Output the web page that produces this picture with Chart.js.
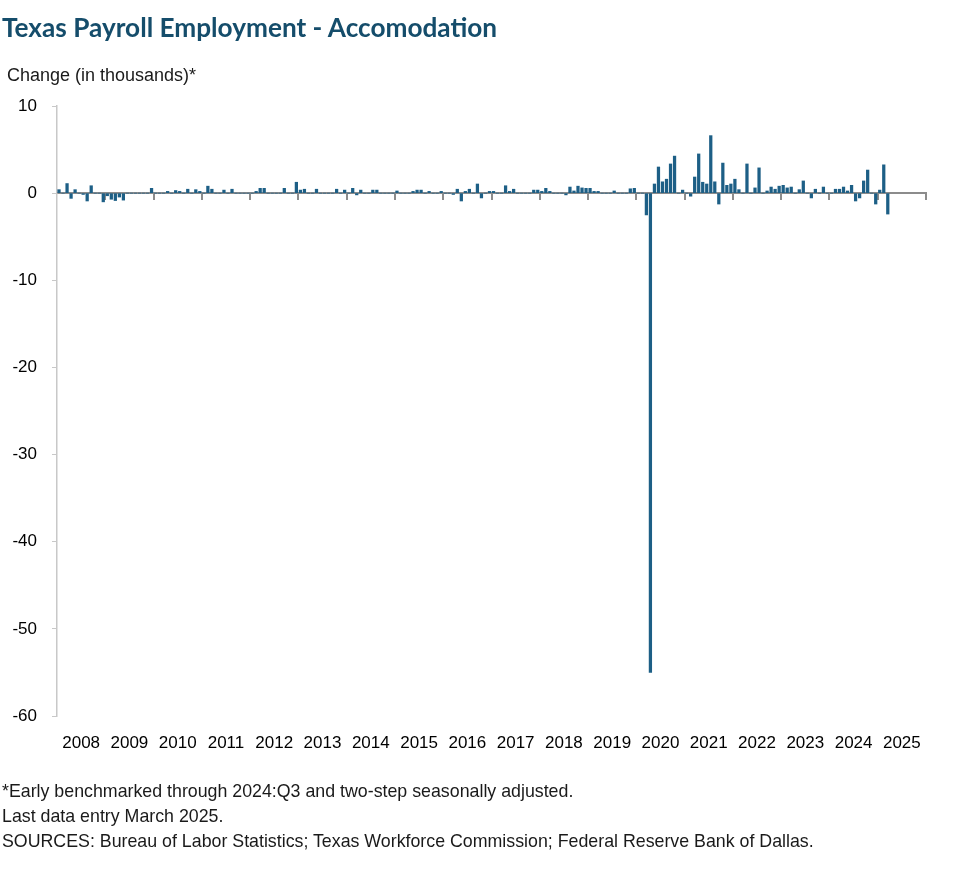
<!DOCTYPE html>
<html>
<head>
<meta charset="utf-8">
<script src="https://cdn.jsdelivr.net/npm/chart.js@4.4.1/dist/chart.umd.min.js"></script>
<style>
  html, body { margin: 0; padding: 0; background: #ffffff; }
  #wrap { position: relative; width: 979px; height: 878px; overflow: hidden; }
  #chart { position: absolute; left: 0; top: 0; }
  .txt { position: absolute; white-space: pre; color: #1a1a1a; font-family: "Liberation Sans", Arial, sans-serif; }
  #title { left: 2px; top: 12px; font-weight: bold; font-size: 26.2px; line-height: 30px; color: #154d6b;
           font-family: Lato, "Liberation Sans", Arial, sans-serif; }
  #ytitle { left: 7px; top: 66px; font-size: 18px; line-height: 19px; }
  #notes { left: 2px; top: 779px; font-size: 17.8px; line-height: 25px; }
</style>
</head>
<body>
<div id="wrap">
  <canvas id="chart" width="979" height="878"></canvas>
  <div id="title" class="txt">Texas Payroll Employment - Accomodation</div>
  <div id="ytitle" class="txt">Change (in thousands)*</div>
  <div id="notes" class="txt">*Early benchmarked through 2024:Q3 and two-step seasonally adjusted.
Last data entry March 2025.
SOURCES: Bureau of Labor Statistics; Texas Workforce Commission; Federal Reserve Bank of Dallas.</div>
</div>
<script>
// ---- data (monthly change, thousands), Jan 2008 .. Mar 2025 ----
const startYear = 2008;
const years = ['2008','2009','2010','2011','2012','2013','2014','2015','2016',
               '2017','2018','2019','2020','2021','2022','2023','2024','2025'];
const changes = [
  // 2008
  0.4, 0, 1.1, -0.6, 0.4, 0, -0.15, -0.9, 0.85, 0, 0, -1.0,
  // 2009
  -0.3, -0.7, -0.85, -0.45, -0.8, 0, 0, 0, 0, 0, 0, 0.55,
  // 2010
  0, 0, 0, 0.2, 0, 0.3, 0.2, 0, 0.45, 0, 0.4, 0.2,
  // 2011
  0, 0.8, 0.45, 0, 0, 0.35, 0, 0.45, 0, 0, 0, 0,
  // 2012
  0, 0.2, 0.55, 0.55, 0, 0, 0, 0, 0.55, 0, 0, 1.25,
  // 2013
  0.35, 0.45, 0, 0, 0.45, 0, 0, 0, 0, 0.45, 0, 0.35,
  // 2014
  0, 0.55, -0.2, 0.35, 0, 0, 0.35, 0.35, 0, 0, 0, 0,
  // 2015
  0.25, 0, 0, 0, 0.2, 0.35, 0.35, 0, 0.2, 0, 0, 0.2,
  // 2016
  0, 0, -0.15, 0.45, -0.9, 0.2, 0.45, 0, 1.05, -0.55, 0, 0.2,
  // 2017
  0.2, 0, 0, 0.85, 0.2, 0.45, 0, 0, 0, 0, 0.35, 0.35,
  // 2018
  0.2, 0.55, 0.2, 0, 0, 0, -0.2, 0.7, 0.25, 0.8, 0.6, 0.55,
  // 2019
  0.55, 0.2, 0.2, 0, 0, 0, 0.25, 0, 0, 0, 0.5, 0.55,
  // 2020
  0, 0, -2.5, -55, 1.05, 3.0, 1.3, 1.6, 3.35, 4.25, 0, 0.35,
  // 2021
  0, -0.35, 1.85, 4.5, 1.25, 1.05, 6.6, 1.3, -1.25, 3.45, 0.9, 1.05,
  // 2022
  1.6, 0.4, 0, 3.35, 0, 0.6, 2.9, 0, 0.25, 0.7, 0.45, 0.8,
  // 2023
  0.9, 0.6, 0.7, 0, 0.4, 1.4, 0, -0.55, 0.45, 0, 0.7, 0,
  // 2024
  0, 0.45, 0.45, 0.7, 0.25, 0.9, -0.9, -0.55, 1.4, 2.65, 0, -1.25,
  // 2025
  0.35, 3.25, -2.4
];
const yTicks = [10, 0, -10, -20, -30, -40, -50, -60];

// ---- build ----
const points = changes.map((v, i) => ({ x: startYear + (i + 0.5) / 12, y: v }));
const endYear = startYear + years.length;
const boundaryYears = [];
for (let y = startYear + 1; y <= endYear; y++) boundaryYears.push(y);

const axisFont = { family: '"Liberation Sans", Arial, sans-serif', size: 17 };

new Chart(document.getElementById('chart'), {
  type: 'bar',
  data: {
    datasets: [{
      data: points,
      backgroundColor: '#1d5f86',
      borderWidth: 0,
      barThickness: 2.6,
      xAxisID: 'x',
      yAxisID: 'y'
    }]
  },
  options: {
    responsive: false,
    animation: false,
    layout: { padding: { top: 106, right: 53, bottom: 122, left: 0 } },
    plugins: { legend: { display: false }, tooltip: { enabled: false }, title: { display: false } },
    scales: {
      x: {
        type: 'linear',
        position: 'bottom',
        offset: false,
        min: startYear,
        max: endYear,
        grid: { display: false, drawTicks: false, offset: false },
        border: { display: false },
        afterBuildTicks: (s) => { s.ticks = years.map(y => ({ value: Number(y) + 0.5 })); },
        afterFit: (s) => { s.height = 40; },
        ticks: {
          autoSkip: false, maxRotation: 0, minRotation: 0, padding: 17,
          color: '#000000', font: axisFont,
          callback: (v) => String(Math.floor(v))
        }
      },
      xz: {
        type: 'linear',
        position: { y: 0 },
        offset: false,
        min: startYear,
        max: endYear,
        z: 1,
        afterBuildTicks: (s) => { s.ticks = boundaryYears.map(y => ({ value: y })); },
        ticks: { display: false },
        grid: { drawOnChartArea: false, drawTicks: true, tickLength: 6, color: '#8c8c8c', lineWidth: 2, offset: false },
        border: { display: true, color: '#8c8c8c', width: 2 }
      },
      y: {
        type: 'linear',
        position: 'left',
        min: -60,
        max: 10,
        afterBuildTicks: (s) => { s.ticks = yTicks.map(v => ({ value: v })); },
        afterFit: (s) => { s.width = 57; },
        ticks: { padding: 15, color: '#000000', font: axisFont, callback: (v) => String(v) },
        grid: { drawOnChartArea: false, drawTicks: true, tickLength: 5, color: '#c8c8c8', lineWidth: 1 },
        border: { display: true, color: '#c8c8c8', width: 1.5 }
      }
    }
  }
});
</script>
</body>
</html>
